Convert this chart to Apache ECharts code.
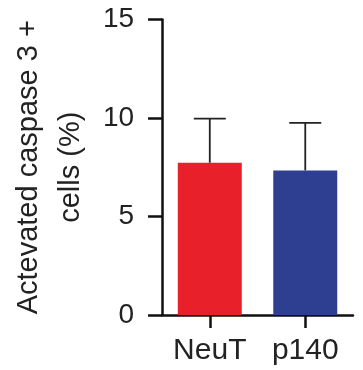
<!DOCTYPE html>
<html>
<head>
<meta charset="utf-8">
<script src="https://cdn.jsdelivr.net/npm/echarts@6/dist/echarts.min.js"></script>
<style>
  html, body { margin: 0; padding: 0; background: #fff; }
  #chart { width: 363px; height: 370px; }
</style>
</head>
<body>
<div id="chart"></div>
<script>
// Groups, means and standard deviations
const groups = ['NeuT', 'p140'];
const means = [7.73, 7.34];
const errors = [2.24, 2.41];
const barColors = ['#e8202a', '#2e3f92'];
const yTicks = [0, 5, 10, 15];

const FONT = '"Liberation Sans", Arial, sans-serif';

const chart = echarts.init(document.getElementById('chart'), null, { renderer: 'canvas' });

chart.setOption({
  animation: false,
  grid: { left: 161, right: 10, top: 19.5, bottom: 55 },
  xAxis: {
    type: 'category',
    data: groups,
    axisLine: { lineStyle: { color: '#111', width: 2.5 } },
    axisTick: { show: true, alignWithLabel: true, length: 13, lineStyle: { color: '#111', width: 2.5 } },
    axisLabel: { color: '#222', fontSize: 30, fontFamily: FONT, margin: 21 }
  },
  yAxis: {
    type: 'value',
    min: yTicks[0],
    max: yTicks[yTicks.length - 1],
    interval: 5,
    name: 'Actevated caspase 3 +\ncells (%)',
    nameLocation: 'middle',
    nameGap: 70,
    nameTextStyle: { color: '#222', fontSize: 29, fontFamily: FONT, lineHeight: 42 },
    axisLine: { show: true, lineStyle: { color: '#111', width: 2.5 } },
    axisTick: { show: true, length: 14, lineStyle: { color: '#111', width: 2.5 } },
    axisLabel: { color: '#222', fontSize: 28, fontFamily: FONT, margin: 28 },
    splitLine: { show: false }
  },
  series: [
    {
      type: 'bar',
      data: means.map((v, i) => ({ value: v, itemStyle: { color: barColors[i] } })),
      barWidth: '67%',
      z: 2
    },
    {
      // upper error whisker with cap
      type: 'custom',
      data: means.map((v, i) => [i, v, v + errors[i]]),
      renderItem: function (params, api) {
        const base = api.coord([api.value(0), api.value(1)]);
        const top = api.coord([api.value(0), api.value(2)]);
        const half = 16;
        const style = { stroke: '#222', lineWidth: 1.8 };
        return {
          type: 'group',
          children: [
            { type: 'line', shape: { x1: base[0], y1: base[1], x2: top[0], y2: top[1] }, style: style },
            { type: 'line', shape: { x1: top[0] - half, y1: top[1], x2: top[0] + half, y2: top[1] }, style: style }
          ]
        };
      },
      z: 3
    }
  ]
});
</script>
</body>
</html>
